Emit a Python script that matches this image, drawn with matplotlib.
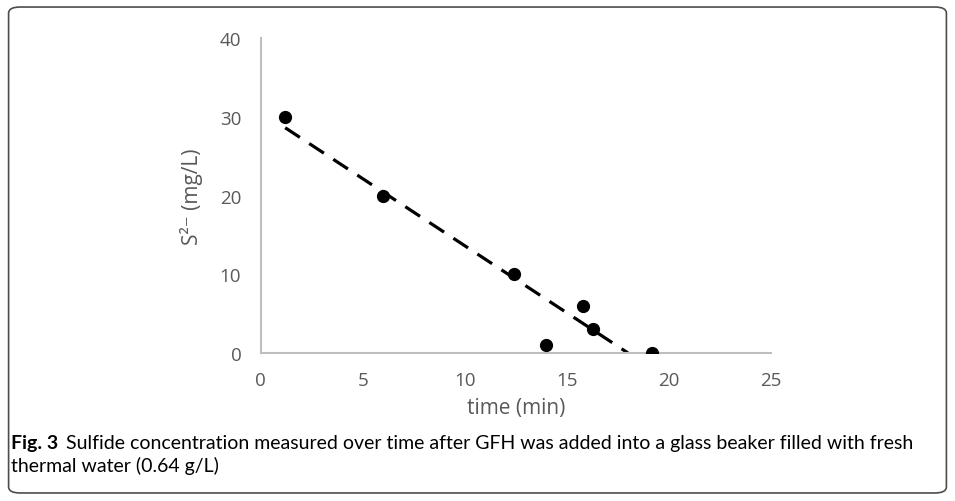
# Sulfide concentration over time with a linear trend line
import numpy as np
from matplotlib import pyplot as plt
from matplotlib.patches import FancyBboxPatch

time_min = [1.2, 6.0, 12.4, 14.0, 15.8, 16.3, 19.2]
sulfide = [30, 20, 10, 1, 6, 3, 0]
x_ticks = [0, 5, 10, 15, 20, 25]
y_ticks = [0, 10, 20, 30, 40]

tick_grey = "#595959"
axis_grey = "#bfbfbf"

fig = plt.figure(figsize=(9.55, 5.02), dpi=100)
ax = fig.add_axes([0.273, 0.295, 0.534, 0.627])

ax.plot(time_min, sulfide, "o", color="black", markersize=8.5, zorder=3)

# linear trend, cut where it reaches zero
slope, intercept = np.polyfit(time_min, sulfide, 1)
x_end = -intercept / slope
xs = np.array([time_min[0], x_end])
ax.plot(xs, slope * xs + intercept, color="black", linewidth=2.3,
        dashes=(5.5, 3.5), zorder=2)

ax.set_xlim(0, 25)
ax.set_ylim(0, 40)
ax.set_xticks(x_ticks)
ax.set_yticks(y_ticks)
for side in ["top", "right"]:
    ax.spines[side].set_visible(False)
for side in ["left", "bottom"]:
    ax.spines[side].set_color(axis_grey)
    ax.spines[side].set_linewidth(1.5)
ax.tick_params(length=0, labelsize=13.5, labelcolor=tick_grey)
ax.tick_params(axis="x", pad=13)
ax.tick_params(axis="y", pad=14)
for lab in ax.get_xticklabels() + ax.get_yticklabels():
    lab.set_family("Open Sans")

ax.set_xlabel("time (min)", fontsize=15, color=tick_grey, family="Open Sans", labelpad=6)
ax.set_ylabel("S²⁻ (mg/L)", fontsize=15, color=tick_grey,
              family=["Open Sans", "DejaVu Sans"], labelpad=12)

border = FancyBboxPatch((0.009, 0.016), 0.982, 0.968, boxstyle="round,pad=0,rounding_size=0.012",
                        transform=fig.transFigure, facecolor="none", edgecolor="#4d4d4d",
                        linewidth=1.2)
fig.patches.append(border)

fig.text(0.011, 0.106, "Fig. 3", fontsize=14, fontweight="bold", family="Lato")
fig.text(0.069, 0.106, "Sulfide concentration measured over time after GFH was added into a glass beaker filled with fresh",
         fontsize=14, family="Lato")
fig.text(0.011, 0.060, "thermal water (0.64 g/L)", fontsize=14, family="Lato")

fig.savefig("out.png", dpi=100)
